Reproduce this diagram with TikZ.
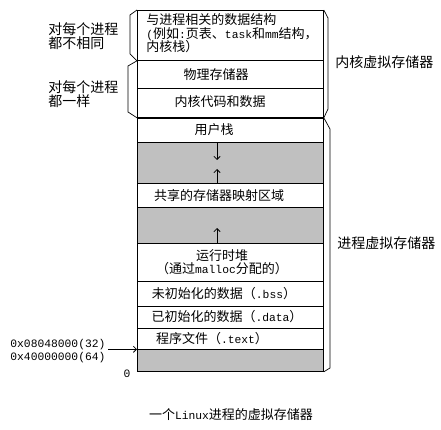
\documentclass[tikz,border=0pt]{standalone}
\usepackage{fontspec}
\setmainfont{Noto Sans CJK SC}
\newfontfamily\lat[Scale=0.87]{Liberation Mono}
\usetikzlibrary{arrows.meta}
\definecolor{holegray}{RGB}{192,192,192}

\begin{document}
\begin{tikzpicture}[
    x=1pt, y=-1pt, % pixel grid, y runs downwards
    >=Straight Barb, % simple open arrow tips
    line width=0.8pt,
    region/.style={draw, rectangle, anchor=north west, minimum width=186pt, inner sep=0pt}, % one slice of memory
    hole/.style={region, fill=holegray}, % unused gap
    txt/.style={inner sep=0pt, font=\fontsize{13}{13.5}\selectfont, align=center}, % text in the slices
    side/.style={inner sep=0pt, font=\fontsize{14}{14.5}\selectfont, align=left, anchor=west}, % labels beside the column
    growarrow/.style={->}, % growth direction
    bracket/.style={line width=0.7pt} % side brackets
]
\useasboundingbox (0,0) rectangle (441,430);

    % Kernel part of the column
    \node[region, minimum height=50pt] (kdata) at (137,10) {};
    \node[region, minimum height=28pt] (phys) at (137,60) {};
    \node[region, minimum height=29pt] (kcode) at (137,88) {};

    % Process part of the column
    \node[region, minimum height=24.7pt] (ustack) at (137,117) {};
    \node[hole, minimum height=41.6pt] (gapa) at (137,141.7) {};
    \node[region, minimum height=24pt] (mmap) at (137,183.3) {};
    \node[hole, minimum height=36pt] (gapb) at (137,207.3) {};
    \node[region, minimum height=37.4pt] (heap) at (137,243.3) {};
    \node[region, minimum height=25pt] (bss) at (137,280.7) {};
    \node[region, minimum height=22.6pt] (data) at (137,305.7) {};
    \node[region, minimum height=21pt] (text) at (137,328.3) {};
    \node[hole, minimum height=21.7pt] (gapc) at (137,349.3) {};

    % Border between kernel and process
    \draw[line width=2.5pt] (kcode.south west) -- (kcode.south east);

    % Texts in the slices
    \node[txt, anchor=north west, align=left] (tkdata) at (146,13.5)
        {与进程相关的数据结构\\{\lat (}例如{\lat :}页表、{\lat task}和{\lat mm}结构，\\内核栈）};
    \node[txt] (tphys) at (216,75) {物理存储器};
    \node[txt] (tkcode) at (220,102) {内核代码和数据};
    \node[txt] (tustack) at (214,130) {用户栈};
    \node[txt] (tmmap) at (219,196) {共享的存储器映射区域};
    \node[txt] (theap) at (222,262) {运行时堆\\（通过{\lat malloc}分配的）};
    \node[txt] (tbss) at (224,294) {未初始化的数据（{\lat .bss}）};
    \node[txt] (tdata) at (227,317) {已初始化的数据（{\lat .data}）};
    \node[txt] (ttext) at (212,339) {程序文件（{\lat .text}）};

    % Growth arrows in the gaps
    \coordinate (stacktip) at (217,160);
    \coordinate (mmaptip) at (217,169);
    \coordinate (heaptip) at (217,228);
    \draw[growarrow] (ustack.south -| stacktip) -- (stacktip);
    \draw[growarrow] (mmap.north -| mmaptip) -- (mmaptip);
    \draw[growarrow] (heap.north -| heaptip) -- (heaptip);

    % Brackets on the left
    \draw[bracket] (kdata.north west) -- (130,15) -- (130,54) -- (kdata.south west);
    \draw[bracket] (kdata.south west) -- (128,66) -- (128,112) -- (kcode.south west);
    \node[side] (diff) at (48,36) {对每个进程\\都不相同};
    \node[side] (same) at (48,94) {对每个进程\\都一样};

    % Brackets on the right
    \draw[bracket] (kdata.north east) -- (328,18) -- (328,109) -- (kcode.south east);
    \draw[bracket] (kcode.south east) -- (330,129) -- (330,368) -- (gapc.south east);
    \node[side] (kvm) at (335,62) {内核虚拟存储器};
    \node[side] (pvm) at (337,243) {进程虚拟存储器};

    % Start address of the program
    \node[inner sep=0pt, align=left, anchor=west, font=\fontsize{13}{13}\selectfont\lat] (addr) at (10,351.5)
        {0x08048000(32)\\0x40000000(64)};
    \coordinate (addrtail) at (108,349.3);
    \draw[->] (addrtail) -- (gapc.north west);
    \node[inner sep=0pt, font=\fontsize{13}{13}\selectfont\lat] (zero) at (127,374) {0};

    % Caption
    \node[txt] (caption) at (231,415) {一个{\lat Linux}进程的虚拟存储器};

\end{tikzpicture}
\end{document}
